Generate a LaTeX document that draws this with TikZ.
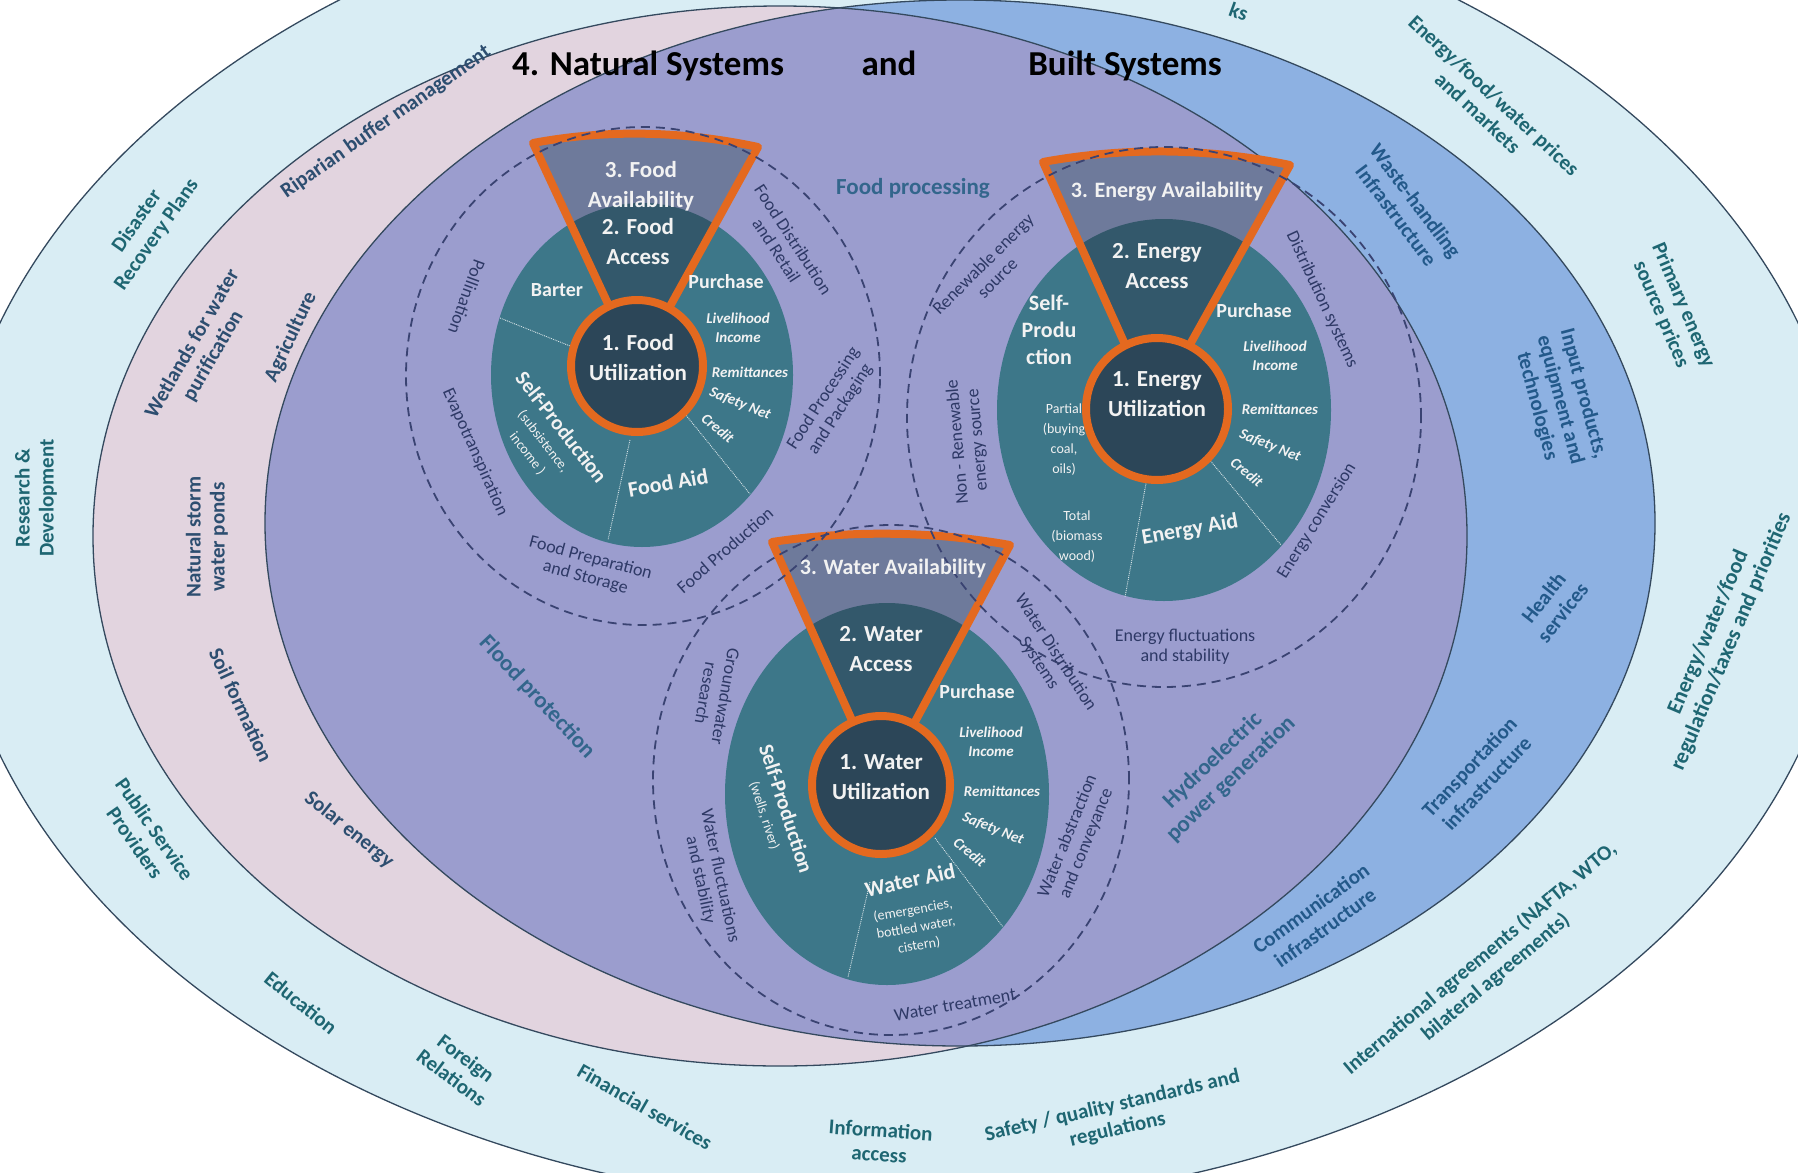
\documentclass[tikz,border=0pt]{standalone}
\usepackage{fontspec}
\setmainfont{Carlito}
\definecolor{outerfill}{HTML}{D9EDF4}
\definecolor{pinkfill}{HTML}{E2D4DF}
\definecolor{bluefill}{HTML}{8DB1E2}
\definecolor{purpfill}{HTML}{9B9DCE}
\definecolor{edgecol}{HTML}{34495E}
\definecolor{discfill}{HTML}{3D7789}
\definecolor{innerfill}{HTML}{2C4658}
\definecolor{availfill}{HTML}{6E7A9B}
\definecolor{accessfill}{HTML}{33586B}
\definecolor{orng}{HTML}{E4691F}
\definecolor{dashcol}{HTML}{3A4372}
\definecolor{outertxt}{HTML}{1E6672}
\definecolor{pinktxt}{HTML}{2D4E70}
\definecolor{purptxt}{HTML}{33668C}
\definecolor{bluetxt}{HTML}{23598A}
\definecolor{dashtxt}{HTML}{2E3966}
\definecolor{whitetxt}{HTML}{F2F2F2}
\begin{document}
\begin{tikzpicture}[x=1pt,y=-1pt,
  olbl/.style={font=\bfseries\fontsize{21}{24}\selectfont, text=outertxt, align=center, inner sep=1pt},
  plbl/.style={font=\bfseries\fontsize{21}{24}\selectfont, text=pinktxt, align=center, inner sep=1pt},
  blbl/.style={font=\bfseries\fontsize{21}{24}\selectfont, text=bluetxt, align=center, inner sep=1pt},
  ulbl/.style={font=\bfseries\fontsize{23}{26}\selectfont, text=purptxt, align=center, inner sep=1pt},
  dlbl/.style={font=\fontsize{18}{20}\selectfont, text=dashtxt, align=center, inner sep=1pt},
  ttl/.style={font=\bfseries\fontsize{35}{40}\selectfont, text=black, inner sep=0pt},
  wbig/.style={font=\bfseries\fontsize{23}{30}\selectfont, text=whitetxt, align=center, inner sep=0pt},
  wmid/.style={font=\bfseries\fontsize{20}{24}\selectfont, text=whitetxt, align=center, inner sep=0pt},
  wital/.style={font=\bfseries\itshape\fontsize{15}{19}\selectfont, text=whitetxt, align=center, inner sep=0pt},
  wsmall/.style={font=\fontsize{14}{20}\selectfont, text=whitetxt, align=center, inner sep=0pt},
  bigedge/.style={draw=edgecol, line width=1.3pt},
  dashring/.style={draw=dashcol, line width=1.8pt, dash pattern=on 9pt off 6pt},
  divider/.style={draw=white, line width=0.9pt, densely dotted, opacity=0.8},
  funnelline/.style={draw=orng, line width=8pt, line join=round},
  innerc/.style={fill=innerfill, draw=orng, line width=8pt}
]
\useasboundingbox (0,0) rectangle (1798,1172);
\clip (0,0) rectangle (1798,1172);
\fill[white] (0,0) rectangle (1798,1172);

% big ellipses
\filldraw[fill=outerfill, bigedge] (899,539) ellipse [x radius=950pt, y radius=667pt];
\fill[pinkfill] (780,536) ellipse [x radius=687pt, y radius=530pt];
\fill[bluefill] (960,523) ellipse [x radius=695pt, y radius=523pt];
\begin{scope}
  \clip (780,536) ellipse [x radius=687pt, y radius=530pt];
  \fill[purpfill] (960,523) ellipse [x radius=695pt, y radius=523pt];
\end{scope}
\draw[bigedge] (780,536) ellipse [x radius=687pt, y radius=530pt];
\draw[bigedge] (960,523) ellipse [x radius=695pt, y radius=523pt];

% discs
\fill[discfill] (642,375) ellipse [x radius=151pt, y radius=172pt];
\fill[discfill] (1164,410) ellipse [x radius=167pt, y radius=191pt];
\fill[discfill] (887,794) ellipse [x radius=162pt, y radius=191pt];

% dividers
\draw[divider] (500,318) -- (575,348);
\draw[divider] (630,440) -- (608,540);
\draw[divider] (685,414) -- (750,494);
\draw[divider] (1147,478) -- (1125,597);
\draw[divider] (1208,458) -- (1281,545);
\draw[divider] (870,882) -- (848,977);
\draw[divider] (935,838) -- (1003,927);

% funnels
\fill[availfill] (637,366) -- (533,143) .. controls (608,129) and (683,131) .. (758,147) -- cycle;
\begin{scope}
  \clip (642,375) ellipse [x radius=151pt, y radius=172pt];
  \fill[accessfill] (637,366) -- (533,143) .. controls (608,129) and (683,131) .. (758,147) -- cycle;
\end{scope}
\draw[funnelline] (637,366) -- (533,143) .. controls (608,129) and (683,131) .. (758,147) -- cycle;

\fill[availfill] (1154,409) -- (1043,162) .. controls (1125,147) and (1208,148) .. (1290,165) -- cycle;
\begin{scope}
  \clip (1164,410) ellipse [x radius=167pt, y radius=191pt];
  \fill[accessfill] (1154,409) -- (1043,162) .. controls (1125,147) and (1208,148) .. (1290,165) -- cycle;
\end{scope}
\draw[funnelline] (1154,409) -- (1043,162) .. controls (1125,147) and (1208,148) .. (1290,165) -- cycle;

\fill[availfill] (881,785) -- (772,542) .. controls (851,530) and (931,531) .. (1010,545) -- cycle;
\begin{scope}
  \clip (887,794) ellipse [x radius=162pt, y radius=191pt];
  \fill[accessfill] (881,785) -- (772,542) .. controls (851,530) and (931,531) .. (1010,545) -- cycle;
\end{scope}
\draw[funnelline] (881,785) -- (772,542) .. controls (851,530) and (931,531) .. (1010,545) -- cycle;

% energy self-production small text (partly hidden by inner circle)
\node[wsmall] (epart) at (1064,440) {Partial\\(buying\\coal,\\oils)};

% inner circles
\filldraw[innerc] (637,366) circle (66pt);
\filldraw[innerc] (1157,409) circle (71pt);
\filldraw[innerc] (881,785) circle (69pt);

% dashed rings
\draw[dashring] (643,376) ellipse [x radius=237pt, y radius=249pt];
\draw[dashring] (1164,417) ellipse [x radius=257pt, y radius=270pt];
\draw[dashring] (891,780) ellipse [x radius=238pt, y radius=255pt];

% titles
\node[ttl, anchor=base] (t1) at (648,75) {4. Natural Systems};
\node[ttl, anchor=base] (t2) at (889,75) {and};
\node[ttl, anchor=base] (t3) at (1125,75) {Built Systems};

% outer ring labels
\node[olbl, rotate=55] (o1) at (147,228) {Disaster\\Recovery Plans};
\node[olbl, rotate=90] (o2) at (36,498) {Research \&\\Development};
\node[olbl, rotate=-55] (o3) at (145,836) {Public Service\\Providers};
\node[olbl, rotate=-39] (o4) at (301,1003) {Education};
\node[olbl, rotate=-37] (o5) at (459,1068) {Foreign\\Relations};
\node[olbl, rotate=-30] (o6) at (645,1107) {Financial services};
\node[olbl, rotate=-4] (o7) at (880,1142) {Information\\access};
\node[olbl, rotate=13] (o8) at (1115,1118) {Safety / quality standards and\\regulations};
\node[olbl, rotate=40] (o9) at (1488,968) {International agreements (NAFTA, WTO,\\bilateral agreements)};
\node[olbl, rotate=67, font=\bfseries\fontsize{22}{25}\selectfont] (o10) at (1720,637) {Energy/water/food\\regulation/taxes and priorities};
\node[olbl, rotate=-67] (o11) at (1672,310) {Primary energy\\source prices};
\node[olbl, rotate=-43] (o12) at (1486,104) {Energy/food/water prices\\and markets};
\node[olbl, rotate=-20, anchor=base east] (o13) at (1246,22) {ks};

% pink ring labels
\node[plbl, rotate=35] (p1) at (386,122) {Riparian buffer management};
\node[plbl, rotate=60] (p2) at (203,350) {Wetlands for water\\purification};
\node[plbl, rotate=65] (p3) at (291,337) {Agriculture};
\node[plbl, rotate=90] (p4) at (207,537) {Natural storm\\water ponds};
\node[plbl, rotate=-65] (p5) at (241,705) {Soil formation};
\node[plbl, rotate=-39] (p6) at (349,830) {Solar energy};

% purple region labels
\node[ulbl] (u1) at (913,188) {Food processing};
\node[ulbl, rotate=-47] (u2) at (537,697) {Flood protection};
\node[ulbl, rotate=44] (u3) at (1222,770) {Hydroelectric\\power generation};

% blue ring labels
\node[blbl, rotate=-53] (b1) at (1406,208) {Waste-handling\\Infrastructure};
\node[blbl, rotate=-75] (b2) at (1560,400) {Input products,\\equipment and\\technologies};
\node[blbl, rotate=52] (b3) at (1553,605) {Health\\services};
\node[blbl, rotate=47] (b4) at (1478,775) {Transportation\\infrastructure};
\node[blbl, rotate=36] (b5) at (1318,918) {Communication\\infrastructure};

% dashed ring labels - food
\node[dlbl, rotate=-110] (d1) at (467,297) {Pollination};
\node[dlbl, rotate=-66] (d2) at (475,452) {Evapotranspiration};
\node[dlbl, rotate=-15] (d3) at (588,568) {Food Preparation\\and Storage};
\node[dlbl, rotate=41] (d4) at (725,550) {Food Production};
\node[dlbl, rotate=57] (d5) at (832,404) {Food Processing\\and Packaging};
\node[dlbl, rotate=-57] (d6) at (785,245) {Food Distribution\\and Retail};
% energy
\node[dlbl, rotate=45] (d7) at (990,271) {Renewable energy\\source};
\node[dlbl, rotate=95] (d8) at (968,441) {Non - Renewable\\energy source};
\node[dlbl, rotate=-65] (d9) at (1322,300) {Distribution systems};
\node[dlbl, rotate=58] (d10) at (1317,521) {Energy conversion};
\node[dlbl] (d11) at (1185,647) {Energy fluctuations\\and stability};
% water
\node[dlbl, rotate=-100] (d12) at (716,695) {Groundwater\\research};
\node[dlbl, rotate=-78] (d13) at (710,878) {Water fluctuations\\and stability};
\node[dlbl, rotate=-57] (d14) at (1047,658) {Water Distribution\\Systems};
\node[dlbl, rotate=68] (d15) at (1077,840) {Water abstraction\\and conveyance};
\node[dlbl, rotate=10] (d16) at (955,1005) {Water treatment};

% food disc labels
\node[wbig] (f3) at (641,186) {3. Food\\Availability};
\node[wbig] (f2) at (638,242) {2. Food\\Access};
\node[wbig] (f1) at (638,358) {1. Food\\Utilization};
\node[wmid] (fbar) at (557,290) {Barter};
\node[wmid] (fpur) at (726,282) {Purchase};
\node[wital] (fliv) at (738,328) {Livelihood\\Income};
\node[wital] (frem) at (750,372) {Remittances};
\node[wital, rotate=-22] (fsaf) at (740,404) {Safety Net};
\node[wital, rotate=-40] (fcre) at (718,428) {Credit};
\node[wsmall, rotate=-52] (fself) at (545,440) {{\bfseries\fontsize{21}{24}\selectfont Self-Production}\\(subsistence,\\income )};
\node[wmid, rotate=10, font=\bfseries\fontsize{22}{24}\selectfont] (faid) at (668,483) {Food Aid};

% energy disc labels
\node[wbig, font=\bfseries\fontsize{22}{26}\selectfont] (e3) at (1167,192) {3. Energy Availability};
\node[wbig] (e2) at (1157,266) {2. Energy\\Access};
\node[wbig] (e1) at (1157,394) {1. Energy\\Utilization};
\node[wmid, font=\bfseries\fontsize{22}{27}\selectfont] (eself) at (1049,330) {Self-\\Produ\\ction};
\node[wsmall] (etot) at (1077,537) {Total\\(biomass\\ wood)};
\node[wmid] (epur) at (1254,311) {Purchase};
\node[wital] (eliv) at (1275,356) {Livelihood\\Income};
\node[wital] (erem) at (1280,409) {Remittances};
\node[wital, rotate=-22] (esaf) at (1270,446) {Safety Net};
\node[wital, rotate=-40] (ecre) at (1247,472) {Credit};
\node[wmid, rotate=10, font=\bfseries\fontsize{22}{24}\selectfont] (eaid) at (1190,530) {Energy Aid};

% water disc labels
\node[wbig, font=\bfseries\fontsize{22}{26}\selectfont] (w3) at (893,569) {3. Water Availability};
\node[wbig] (w2) at (881,649) {2. Water\\Access};
\node[wbig] (w1) at (881,777) {1. Water\\Utilization};
\node[wmid] (wpur) at (977,692) {Purchase};
\node[wital] (wliv) at (991,742) {Livelihood\\Income};
\node[wital] (wrem) at (1002,791) {Remittances};
\node[wital, rotate=-22] (wsaf) at (993,829) {Safety Net};
\node[wital, rotate=-40] (wcre) at (970,852) {Credit};
\node[wsmall, rotate=-72] (wself) at (776,812) {{\bfseries\fontsize{21}{24}\selectfont Self-Production}\\(wells, river)};
\node[wmid, rotate=12, font=\bfseries\fontsize{22}{24}\selectfont] (waid) at (910,880) {Water Aid};
\node[wsmall, rotate=10, font=\fontsize{14}{18}\selectfont] (waidsub) at (916,928) {(emergencies,\\bottled water,\\cistern)};
\end{tikzpicture}
\end{document}
